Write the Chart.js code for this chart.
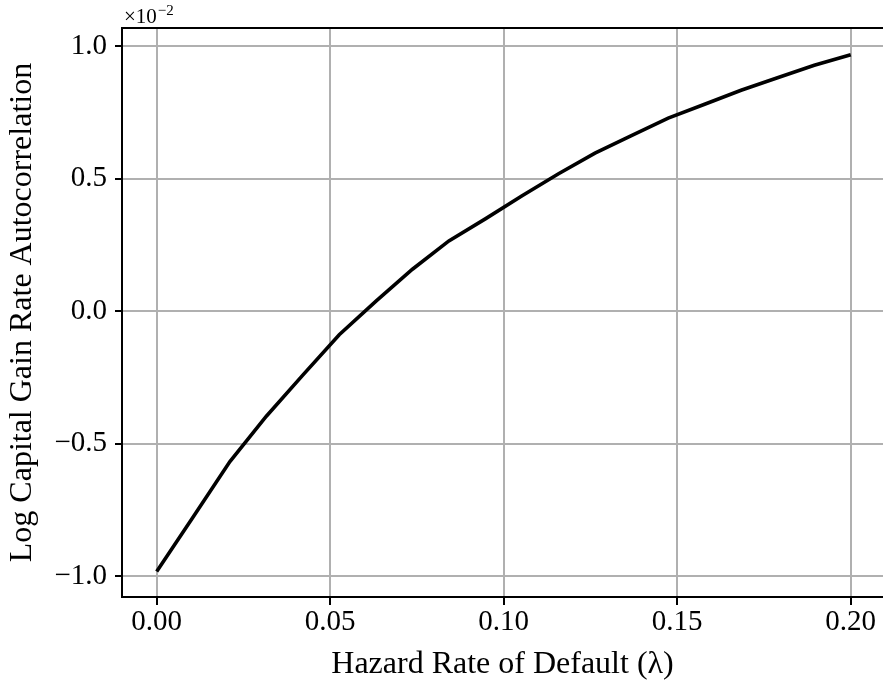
<!DOCTYPE html>
<html>
<head>
<meta charset="utf-8">
<script src="https://cdn.jsdelivr.net/npm/chart.js@4.4.1/dist/chart.umd.min.js"></script>
<style>
	html, body { margin: 0; padding: 0; background: #ffffff; }
	canvas { display: block; }
</style>
</head>
<body>
<canvas id="autocorr" width="883" height="682"></canvas>
<script>
// |------------|
// |   Données  |
// |------------|

// Taux de défaut (lambda), axe x
const lambda_values = [0, 0.0105, 0.0211, 0.0316, 0.0421, 0.0526, 0.0632, 0.0737, 0.0842, 0.0947,
	0.1053, 0.1158, 0.1263, 0.1368, 0.1474, 0.1579, 0.1684, 0.1789, 0.1895, 0.2]

// Autocorrélation (en unités de 1e-2)
const autocorr_values = [-0.981, -0.776, -0.567, -0.396, -0.241, -0.089, 0.038, 0.158, 0.265, 0.348,
	0.435, 0.518, 0.596, 0.662, 0.728, 0.780, 0.833, 0.880, 0.927, 0.967]

const x_ticks = [0, 0.05, 0.10, 0.15, 0.20]
const x_tick_labels = ['0.00', '0.05', '0.10', '0.15', '0.20']
const y_ticks = [-1.0, -0.5, 0.0, 0.5, 1.0]
const y_tick_labels = ['\u22121.0', '\u22120.5', '0.0', '0.5', '1.0']

const x_title = 'Hazard Rate of Default (\u03bb)'
const y_title = 'Log Capital Gain Rate Autocorrelation'
const offset_base = '\u00d710'
const offset_exp = '\u22122'

// |--------------|
// |   Chart.js   |
// |--------------|

Chart.defaults.font.family = '"Liberation Serif", "Times New Roman", serif'
Chart.defaults.font.size = 29
Chart.defaults.color = '#000000'

const grid_color = '#b0b0b0'

// Cadre du haut + facteur d'échelle "x10^-2"
const frame_plugin = {
	id: 'frame',
	afterDraw(chart) {
		const ctx = chart.ctx
		const area = chart.chartArea
		ctx.save()
		ctx.strokeStyle = '#000000'
		ctx.lineWidth = 2
		ctx.beginPath()
		ctx.moveTo(area.left - 1, area.top)
		ctx.lineTo(area.right, area.top)
		ctx.stroke()

		ctx.fillStyle = '#000000'
		ctx.textBaseline = 'alphabetic'
		ctx.textAlign = 'left'
		ctx.font = '21px "Liberation Serif", serif'
		ctx.fillText(offset_base, area.left + 2, 23)
		const w = ctx.measureText(offset_base).width
		ctx.font = '15px "Liberation Serif", serif'
		ctx.fillText(offset_exp, area.left + 2 + w + 1, 15)
		ctx.restore()
	}
}

const points = lambda_values.map((x, i) => ({ x: x, y: autocorr_values[i] }))

new Chart(document.getElementById('autocorr'), {
	type: 'line',
	data: {
		datasets: [{
			data: points,
			borderColor: '#000000',
			backgroundColor: '#000000',
			borderWidth: 3.6,
			pointRadius: 0,
			tension: 0,
			fill: false
		}]
	},
	options: {
		responsive: false,
		animation: false,
		devicePixelRatio: 1,
		layout: {
			padding: { top: 28, right: 0, left: 0, bottom: 0 }
		},
		plugins: {
			legend: { display: false },
			tooltip: { enabled: false }
		},
		scales: {
			x: {
				type: 'linear',
				min: -0.01,
				max: 0.2093,
				afterBuildTicks: (scale) => { scale.ticks = x_ticks.map(v => ({ value: v })) },
				afterFit: (scale) => { scale.height = 85 },
				ticks: {
					padding: 0,
					maxRotation: 0,
					autoSkip: false,
					callback: (value, index) => x_tick_labels[index]
				},
				grid: {
					color: grid_color,
					lineWidth: 2,
					tickColor: '#000000',
					tickWidth: 2,
					tickLength: 8
				},
				border: { display: true, color: '#000000', width: 2 },
				title: {
					display: true,
					text: x_title,
					font: { size: 32, lineHeight: 1 },
					padding: { top: 0, bottom: 1 }
				}
			},
			y: {
				type: 'linear',
				min: -1.0775,
				max: 1.0675,
				afterBuildTicks: (scale) => { scale.ticks = y_ticks.map(v => ({ value: v })) },
				afterFit: (scale) => { scale.width = 122 },
				ticks: {
					padding: 8,
					autoSkip: false,
					callback: (value, index) => y_tick_labels[index]
				},
				grid: {
					color: grid_color,
					lineWidth: 2,
					tickColor: '#000000',
					tickWidth: 2,
					tickLength: 7
				},
				border: { display: true, color: '#000000', width: 2 },
				title: {
					display: true,
					text: y_title,
					font: { size: 32, lineHeight: 1 },
					padding: { top: 7, bottom: 0 }
				}
			}
		}
	},
	plugins: [frame_plugin]
})
</script>
</body>
</html>
